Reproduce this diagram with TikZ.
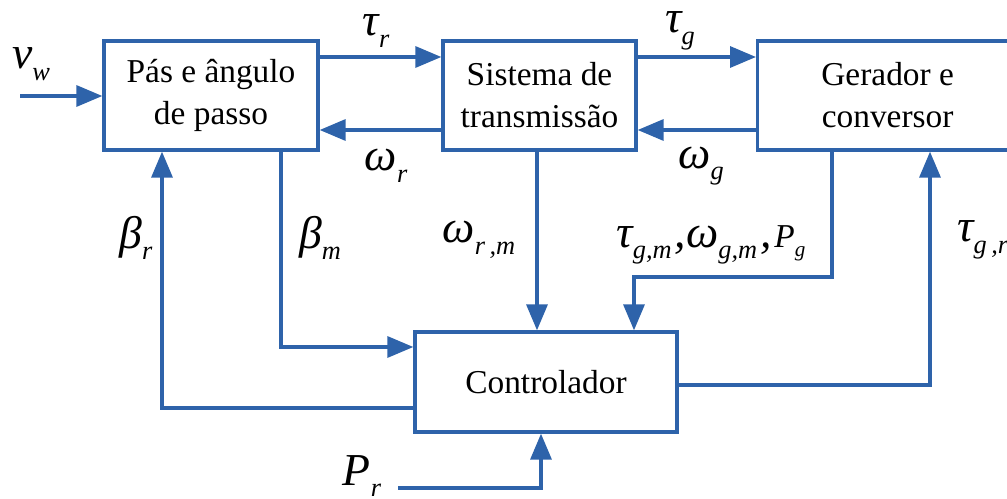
\documentclass[tikz,border=0pt]{standalone}
\usepackage{fontspec}
\setmainfont{Liberation Serif}
\usetikzlibrary{arrows.meta}
\definecolor{lb}{RGB}{46,99,170}
\newcommand{\bigit}[1]{{\fontsize{26}{26}\selectfont\itshape #1}}
\newcommand{\subit}[1]{\raisebox{-6.5pt}{\fontsize{15}{15}\selectfont\itshape #1}}
\newcommand{\symlab}[2]{\bigit{#1}\subit{#2}}
\begin{document}
\begin{tikzpicture}[x=0.02cm,y=-0.02cm,
  blk/.style={draw=lb, line width=1.9pt, align=center, font=\fontsize{19}{24}\selectfont, inner sep=0pt},
  conn/.style={draw=lb, line width=1.9pt, -{Triangle[length=0.52cm,width=0.42cm]}},
  lab/.style={inner sep=0pt}]
\clip (0,0) rectangle (1007,499);
\path[use as bounding box] (0,0) rectangle (1007,499);

\node[blk, minimum width=4.28cm, minimum height=2.18cm] (b1) at (211,95.5) {Pás e ângulo\\de passo};
\node[blk, minimum width=3.86cm, minimum height=2.18cm] (b2) at (539.5,95.5) {Sistema de\\transmissão};
\node[blk, minimum width=5.2cm, minimum height=2.18cm, anchor=west] (b3) at (756,95.5) {Gerador e\\conversor};
\node[blk, minimum width=5.24cm, minimum height=2.0cm] (ctrl) at (546,382) {Controlador};

\coordinate (vw) at (20,96);
\coordinate (ytop) at (0,57);
\coordinate (ybot) at (0,130);
\coordinate (br) at (162,408);
\coordinate (bm) at (281,347);
\coordinate (wrm) at (537,0);
\coordinate (g1) at (832,277);
\coordinate (g2) at (634,277);
\coordinate (gr) at (930,385);
\coordinate (pr0) at (398,488);
\coordinate (pr1) at (541,488);

\draw[conn] (vw) -- (b1.west |- vw);
\draw[conn] (b1.east |- ytop) -- (b2.west |- ytop);
\draw[conn] (b2.west |- ybot) -- (b1.east |- ybot);
\draw[conn] (b2.east |- ytop) -- (b3.west |- ytop);
\draw[conn] (b3.west |- ybot) -- (b2.east |- ybot);
\draw[conn] (ctrl.west |- br) -- (br) -- (b1.south -| br);
\draw[conn] (b1.south -| bm) -- (bm) -- (ctrl.west |- bm);
\draw[conn] (b2.south -| wrm) -- (ctrl.north -| wrm);
\draw[conn] (b3.south -| g1) -- (g1) -- (g2) -- (ctrl.north -| g2);
\draw[conn] (ctrl.east |- gr) -- (gr) -- (b3.south -| gr);
\draw[conn] (pr0) -- (pr1) -- (ctrl.south -| pr1);

\node[lab] (lvw) at (31,64) {\bigit{v}\subit{w}};
\node[lab] (ltr) at (376,31) {\symlab{τ}{r}};
\node[lab] (lwr) at (386,166) {\symlab{ω}{r}};
\node[lab] (ltg) at (680,31) {\symlab{τ}{g}};
\node[lab] (lwg) at (701,166) {\symlab{ω}{g}};
\node[lab] (lbr) at (136,238) {\symlab{β}{r}};
\node[lab] (lbm) at (320,238) {\symlab{β}{m}};
\node[lab] (lwrm) at (479,240) {\symlab{ω}{r\,,m}};
\node[lab] (lgm) at (711,245) {\symlab{τ}{g,m}\,\bigit{,}\symlab{ω}{g,m}\,\bigit{,}\,{\fontsize{19}{19}\selectfont\itshape P}\raisebox{-5pt}{\fontsize{12}{12}\selectfont\itshape g}};
\node[lab, anchor=west] (lgr) at (957,240) {\symlab{τ}{g\,,r}};
\node[lab] (lpr) at (362,476) {\symlab{P}{r}};
\end{tikzpicture}
\end{document}
